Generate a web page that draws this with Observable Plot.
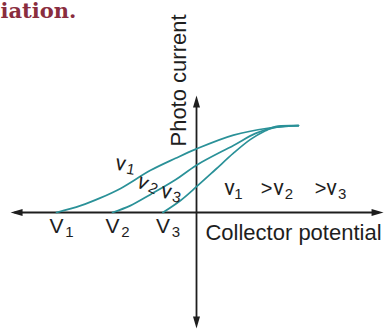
<!DOCTYPE html>
<html>
<head>
<meta charset="utf-8">
<script src="https://cdn.jsdelivr.net/npm/d3@7"></script>
<script src="https://cdn.jsdelivr.net/npm/@observablehq/plot@0.6"></script>
<style>
  html, body { margin: 0; padding: 0; background: #fff; }
  #chart svg { display: block; }
</style>
</head>
<body>
<div id="chart"></div>
<script>
// Stopping potentials for the three frequencies (ν1 > ν2 > ν3)
const stopLabels = ["V", "V", "V"];
const stopSubs = ["1", "2", "3"];
const stopPotentials = [-5.0, -3.0, -1.2];

// Photo current vs collector potential, one list per frequency
const potential1 = [-5.0, -4.14, -3.43, -2.71, -1.64, -0.75, 0, 1.32, 2.54, 3.64];
const current1   = [0, 0.08, 0.17, 0.28, 0.49, 0.63, 0.74, 0.90, 0.98, 1.01];
const potential2 = [-3.0, -2.36, -1.64, -0.75, 0, 1.32, 2.11, 2.82, 3.64];
const current2   = [0, 0.08, 0.21, 0.38, 0.55, 0.78, 0.92, 0.99, 1.01];
const potential3 = [-1.2, -0.57, 0, 0.68, 1.32, 1.93, 2.46, 2.82, 3.64];
const current3   = [0, 0.14, 0.30, 0.50, 0.69, 0.85, 0.95, 1.0, 1.01];

// Frequency labels next to the curves
const freqLabels = ["ν", "ν", "ν"];
const freqSubs = ["1", "2", "3"];
const freqAt = [[-2.71, 0.57], [-1.91, 0.35], [-1.07, 0.244]];
const freqTilt = [10, 25, 12];

// The ordering note "ν1 > ν2 > ν3"
const orderNu = [1.18, 2.93, 4.82];
const orderSubs = ["1", "2", "3"];
const orderSubAt = [1.5, 3.3, 5.2];
const orderGt = [2.5, 4.43];

const curves = [
  {name: "ν1", xs: potential1, ys: current1},
  {name: "ν2", xs: potential2, ys: current2},
  {name: "ν3", xs: potential3, ys: current3}
];
const rows = curves.flatMap(c => c.xs.map((x, i) => ({curve: c.name, potential: x, current: c.ys[i]})));

const sans = "'Liberation Sans', Arial, sans-serif";
const greek = "Roboto, 'Open Sans', sans-serif";
const ink = "#1e1e1e";
const teal = "#2a9198";

// Narrow filled arrowhead with its tip at the origin, pointing up
const arrowHead = {
  draw(context) {
    context.moveTo(0, 0);
    context.lineTo(-3.5, 12);
    context.lineTo(3.5, 12);
    context.closePath();
  }
};

const axisEnds = [
  {x: -6.64, y: 0, r: -90},
  {x: 6.68, y: 0, r: 90},
  {x: 0, y: 1.36, r: 0},
  {x: 0, y: -1.35, r: 180}
];

const noteY = 0.28;

const chart = Plot.plot({
  width: 386,
  height: 331,
  margin: 0,
  x: {domain: [-7, 7], range: [0, 392], axis: null},
  y: {domain: [-1.5, 2.5], range: [341, -3], axis: null},
  marks: [
    // axes through the origin
    Plot.link([{x1: -6.5, x2: 6.5}], {x1: "x1", x2: "x2", y1: 0, y2: 0, stroke: ink, strokeWidth: 1.8}),
    Plot.link([{y1: -1.22, y2: 1.24}], {x1: 0, x2: 0, y1: "y1", y2: "y2", stroke: ink, strokeWidth: 1.8}),
    Plot.dot(axisEnds, {x: "x", y: "y", rotate: "r", symbol: arrowHead, fill: ink, stroke: "none"}),

    // photo current curves
    Plot.line(rows, {x: "potential", y: "current", z: "curve", curve: "catmull-rom",
      stroke: teal, strokeWidth: 1.7}),

    // stopping potential labels
    Plot.text(stopPotentials, {x: d => d, y: 0, text: (d, i) => stopLabels[i], dy: 14,
      fontSize: 21, fontFamily: sans, fill: ink}),
    Plot.text(stopPotentials, {x: d => d, y: 0, text: (d, i) => stopSubs[i], dx: 13, dy: 20,
      fontSize: 15, fontFamily: sans, fill: ink}),

    // frequency labels on the curves
    Plot.text(freqAt, {x: d => d[0], y: d => d[1], text: (d, i) => freqLabels[i],
      rotate: (d, i) => freqTilt[i], fontSize: 22, fontFamily: greek, fill: ink}),
    Plot.text(freqAt, {x: d => d[0], y: d => d[1], text: (d, i) => freqSubs[i],
      rotate: (d, i) => freqTilt[i], dx: 10, dy: 6, fontSize: 15, fontFamily: sans, fill: ink}),

    // ordering note
    Plot.text(orderNu, {x: d => d, y: noteY, text: () => "ν",
      fontSize: 22, fontFamily: greek, fill: ink}),
    Plot.text(orderGt, {x: d => d, y: noteY, text: () => ">",
      fontSize: 20, fontFamily: sans, fill: ink}),
    Plot.text(orderSubAt, {x: d => d, y: noteY, text: (d, i) => orderSubs[i], dy: 6,
      fontSize: 15, fontFamily: sans, fill: ink}),

    // axis titles
    Plot.text(["Photo current"], {x: -0.625, y: 1.535, text: d => d, rotate: -90,
      fontSize: 22, fontFamily: sans, fill: ink}),
    Plot.text(["Collector potential"], {x: 0.32, y: -0.233, text: d => d, textAnchor: "start",
      fontSize: 22, fontFamily: sans, fill: ink}),

    // trailing word of the preceding heading
    Plot.text(["iation."], {frameAnchor: "top-left", text: d => d, dx: 0, dy: 3,
      lineAnchor: "top", textAnchor: "start", fontSize: 21, fontWeight: "bold",
      fontFamily: "'DejaVu Serif', serif", fill: "#8a2d3e"})
  ]
});

document.getElementById("chart").append(chart);
</script>
</body>
</html>
